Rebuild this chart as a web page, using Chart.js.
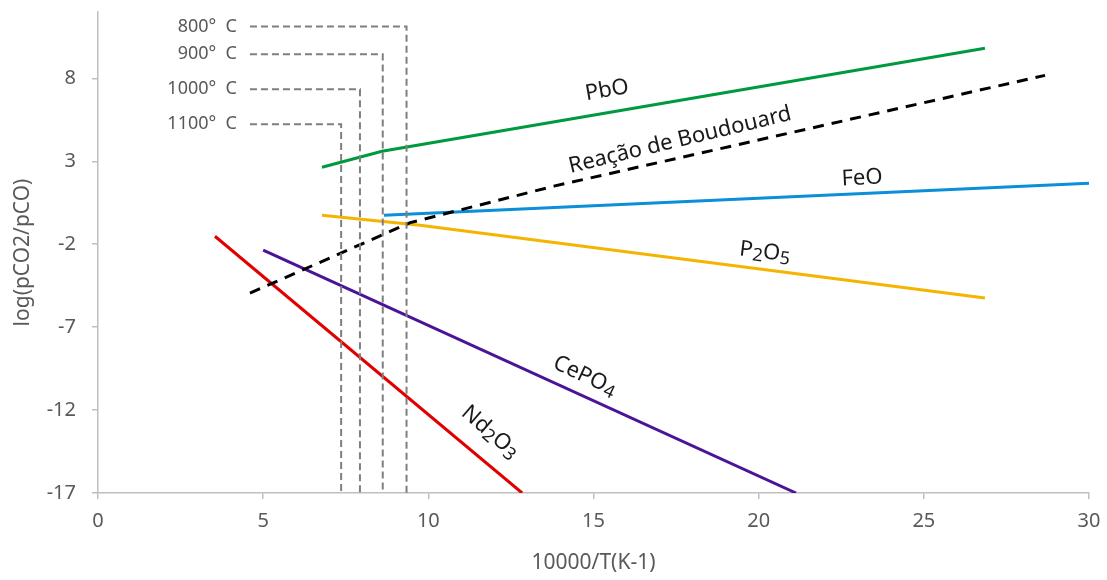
<!DOCTYPE html>
<html>
<head>
<meta charset="utf-8">
<script src="https://cdn.jsdelivr.net/npm/chart.js@4.4.0/dist/chart.umd.min.js"></script>
<style>
    html, body { margin: 0; padding: 0; background: #fff; }
    #wrap { width: 1107px; height: 580px; }
</style>
</head>
<body>
<div id="wrap"><canvas id="chart" width="1107" height="580"></canvas></div>
<script>
// Оси
const xTicks = [0, 5, 10, 15, 20, 25, 30];
const yTicks = [-17, -12, -7, -2, 3, 8];

// Кривые (10000/T, log(pCO2/pCO))
const pboX = [6.78, 8.6, 26.85];
const pboY = [2.64, 3.6, 9.81];
const boudX = [4.6, 9.45, 13.8, 28.67];
const boudY = [-4.95, -0.7, 1.5, 8.18];
const feoX = [8.66, 30];
const feoY = [-0.25, 1.67];
const p2o5X = [6.78, 9.75, 26.85];
const p2o5Y = [-0.25, -0.86, -5.25];
const cepo4X = [5.0, 21.13];
const cepo4Y = [-2.36, -17];
const nd2o3X = [3.54, 12.84];
const nd2o3Y = [-1.52, -17];

// Температуры
const tempLabels = ['800° C', '900° C', '1000° C', '1100° C'];
const tempX = [9.34, 8.62, 7.93, 7.36];
const tempY = [11.13, 9.45, 7.34, 5.23];
const tempStartX = 4.6;

// Подписи кривых
const curveNames = ['PbO', 'Reação de Boudouard', 'FeO', 'P2O5', 'CePO4', 'Nd2O3'];
const nameX = [15.41, 17.62, 23.13, 20.19, 14.74, 11.87];
const nameY = [7.28, 4.27, 1.98, -2.48, -9.95, -13.33];
const nameAngle = [-9.7, -13.5, -3, 7, 25, 41];

const FONT = '"Noto Sans", sans-serif';
const AXIS_COLOR = '#bfbfbf';
const TEXT_GRAY = '#595959';

function pts(xs, ys) {
    return xs.map((x, i) => ({ x: x, y: ys[i] }));
}

function line(data, color, width, dash) {
    return {
        data: data,
        borderColor: color,
        borderWidth: width,
        borderDash: dash || [],
        pointRadius: 0,
        tension: 0,
        fill: false,
        clip: 0
    };
}

const datasets = [];
tempX.forEach((x, i) => {
    datasets.push(line(
        [{ x: tempStartX, y: tempY[i] }, { x: x, y: tempY[i] }, { x: x, y: -17 }],
        '#7f7f7f', 2, [7, 4]
    ));
});
datasets.push(line(pts(pboX, pboY), '#009a3e', 3));
datasets.push(line(pts(boudX, boudY), '#000000', 3, [11, 8]));
datasets.push(line(pts(feoX, feoY), '#0a8fd8', 3));
datasets.push(line(pts(p2o5X, p2o5Y), '#f4b400', 3));
datasets.push(line(pts(cepo4X, cepo4Y), '#4a1496', 3));
datasets.push(line(pts(nd2o3X, nd2o3Y), '#e00000', 3));

// Химические формулы: цифры рисуем индексом
function drawChem(ctx, s, size) {
    const parts = s.split(/(\d)/).filter(p => p);
    const big = size + 'px ' + FONT;
    const small = Math.round(size * 0.8) + 'px ' + FONT;
    let w = 0;
    parts.forEach(p => {
        ctx.font = /\d/.test(p) ? small : big;
        w += ctx.measureText(p).width;
    });
    let x = -w / 2;
    ctx.textAlign = 'left';
    ctx.textBaseline = 'middle';
    ctx.fillStyle = '#1a1a1a';
    parts.forEach(p => {
        const sub = /\d/.test(p);
        ctx.font = sub ? small : big;
        ctx.fillText(p, x, sub ? size * 0.2 : 0);
        x += ctx.measureText(p).width;
    });
}

const labelsPlugin = {
    id: 'labels',
    afterDatasetsDraw(chart) {
        const ctx = chart.ctx;
        const xs = chart.scales.x;
        const ys = chart.scales.y;
        ctx.save();
        ctx.font = '18px ' + FONT;
        ctx.fillStyle = TEXT_GRAY;
        ctx.textAlign = 'right';
        ctx.textBaseline = 'middle';
        tempLabels.forEach((t, i) => {
            ctx.fillText(t.replace(' ', '  '), xs.getPixelForValue(tempStartX) - 13, ys.getPixelForValue(tempY[i]));
        });
        curveNames.forEach((name, i) => {
            ctx.save();
            ctx.translate(xs.getPixelForValue(nameX[i]), ys.getPixelForValue(nameY[i]));
            ctx.rotate(nameAngle[i] * Math.PI / 180);
            drawChem(ctx, name, 22);
            ctx.restore();
        });
        ctx.restore();
    }
};

new Chart(document.getElementById('chart'), {
    type: 'line',
    data: { datasets: datasets },
    options: {
        responsive: false,
        animation: false,
        layout: { padding: { top: 12, right: 18, left: 0, bottom: 0 } },
        plugins: {
            legend: { display: false },
            tooltip: { enabled: false }
        },
        scales: {
            x: {
                type: 'linear',
                min: 0,
                max: 30,
                afterFit: s => { s.height = 87; s.paddingLeft = 0; s.paddingRight = 0; },
                afterBuildTicks: s => { s.ticks = xTicks.map(v => ({ value: v })); },
                ticks: {
                    color: TEXT_GRAY,
                    padding: 10,
                    font: { family: FONT, size: 20 }
                },
                grid: { drawOnChartArea: false, tickLength: 6, color: AXIS_COLOR, lineWidth: 1.5 },
                border: { color: AXIS_COLOR, width: 1.5 },
                title: {
                    display: true,
                    text: '10000/T(K-1)',
                    color: TEXT_GRAY,
                    font: { family: FONT, size: 21 },
                    padding: { top: 0 }
                }
            },
            y: {
                type: 'linear',
                min: -17,
                max: 12,
                afterFit: s => { s.width = 98; s.paddingTop = 0; s.paddingBottom = 0; },
                afterBuildTicks: s => { s.ticks = yTicks.map(v => ({ value: v })); },
                ticks: {
                    color: TEXT_GRAY,
                    padding: 16,
                    font: { family: FONT, size: 20 }
                },
                grid: { drawOnChartArea: false, tickLength: 6, color: AXIS_COLOR, lineWidth: 1.5 },
                border: { color: AXIS_COLOR, width: 1.5 },
                title: {
                    display: true,
                    text: 'log(pCO2/pCO)',
                    color: TEXT_GRAY,
                    font: { family: FONT, size: 21 },
                    padding: { top: 10, bottom: 0 }
                }
            }
        }
    },
    plugins: [labelsPlugin]
});
</script>
</body>
</html>
